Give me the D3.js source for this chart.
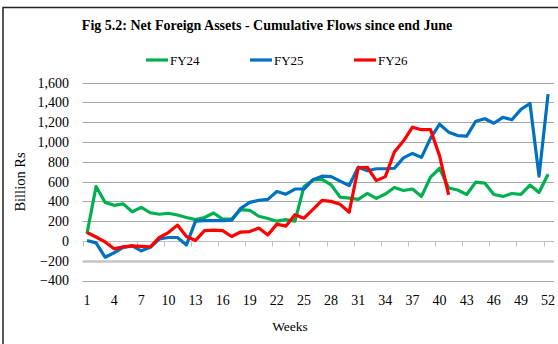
<!DOCTYPE html>
<html>
<head>
<meta charset="utf-8">
<script src="https://cdn.jsdelivr.net/npm/d3@7"></script>
<style>
  html, body { margin: 0; padding: 0; background: #fff; }
  svg { display: block; }
  text { font-family: "Liberation Serif", "DejaVu Serif", serif; fill: #000; }
</style>
</head>
<body>
<svg id="chart" width="558" height="344"></svg>
<script>
// Weekly cumulative net foreign asset flows (Billion Rs), weeks since end June
const weeks = d3.range(1, 53);
const tickWeeks = [1, 4, 7, 10, 13, 16, 19, 22, 25, 28, 31, 34, 37, 40, 43, 46, 49, 52];
const yTicks = [-400, -200, 0, 200, 400, 600, 800, 1000, 1200, 1400, 1600];
const seriesNames = ["FY24", "FY25", "FY26"];
const seriesColors = ["#00B050", "#0070C0", "#FF0000"];

const fy24 = [75, 550, 390, 360, 375, 295, 340, 285, 270, 280, 262, 237, 215, 237, 283, 220, 220, 317, 310, 250,
              227, 200, 215, 200, 550, 617, 623, 567, 443, 433, 420, 480, 430, 475, 540, 510, 525, 450, 645, 735,
              535, 515, 470, 595, 585, 470, 450, 480, 470, 565, 490, 675];
const fy25 = [5, -20, -165, -120, -65, -50, -100, -65, 20, 35, 35, -40, 200, 205, 205, 205, 210, 330, 390, 410,
              420, 500, 473, 525, 525, 620, 655, 650, 605, 560, 745, 710, 730, 730, 735, 840, 885, 845, 1040, 1180,
              1100, 1065, 1060, 1210, 1235, 1190, 1250, 1225, 1330, 1390, 655, 1485];
const fy26 = [85, 40, -10, -80, -60, -50, -55, -60, 35, 85, 160, 45, 5, 105, 110, 105, 45, 90, 95, 130,
              60, 170, 150, 265, 230, 320, 410, 400, 370, 290, 740, 745, 610, 650, 900, 1010, 1150, 1125, 1125, 860,
              465];
const seriesValues = [fy24, fy25, fy26];

const svg = d3.select("#chart");

// outer frame
svg.append("rect")
  .attr("x", 3).attr("y", 7.5)
  .attr("width", 570).attr("height", 360)
  .attr("fill", "none").attr("stroke", "#222").attr("stroke-width", 1.5);

const plot = { left: 82.5, right: 552.6, top: 82.7, bottom: 280.5 };

const x = d3.scaleBand().domain(weeks).range([plot.left, plot.right]).padding(0);
const y = d3.scaleLinear().domain([-400, 1600]).range([plot.bottom, plot.top]);
const cx = w => x(w) + x.bandwidth() / 2;

// title
svg.append("text")
  .attr("x", 267).attr("y", 30)
  .attr("text-anchor", "middle")
  .style("font-weight", "bold").style("font-size", "14px")
  .text("Fig 5.2: Net Foreign Assets - Cumulative Flows since end June");

// horizontal gridlines
svg.append("g").selectAll("line")
  .data(yTicks.filter(v => v !== 0))
  .join("line")
  .attr("x1", plot.left).attr("x2", plot.right + 1.5)
  .attr("y1", d => Math.round(y(d)) + 0.5).attr("y2", d => Math.round(y(d)) + 0.5)
  .attr("stroke", d => d === -200 ? "#c4c4c4" : "#a6a6a6")
  .attr("stroke-width", d => d === -200 ? 2.5 : 1);

// y-axis labels
const yAxis = d3.axisLeft(y).tickValues(yTicks).tickSize(0).tickPadding(0)
  .tickFormat(d3.format(","));
const gy = svg.append("g").attr("transform", `translate(69,0)`).call(yAxis);
gy.select(".domain").remove();
gy.selectAll("text").style("font-size", "14px").style("font-family", "Liberation Serif, serif").attr("fill", "#000");

// category axis at zero, ticks on week boundaries every third week
const zeroY = Math.round(y(0)) + 0.5;
svg.append("line")
  .attr("x1", plot.left).attr("x2", plot.right + 1.5)
  .attr("y1", zeroY).attr("y2", zeroY)
  .attr("stroke", "#bfbfbf").attr("stroke-width", 1);
svg.append("g").selectAll("line")
  .data(tickWeeks)
  .join("line")
  .attr("x1", d => Math.round(x(d)) + 0.5).attr("x2", d => Math.round(x(d)) + 0.5)
  .attr("y1", zeroY).attr("y2", zeroY + 5)
  .attr("stroke", "#bfbfbf");

// week labels below the plot
svg.append("g").selectAll("text")
  .data(tickWeeks)
  .join("text")
  .attr("x", d => cx(d)).attr("y", 305)
  .attr("text-anchor", "middle")
  .style("font-size", "14px")
  .text(d => d);

// axis titles
svg.append("text")
  .attr("x", 290).attr("y", 331)
  .attr("text-anchor", "middle").style("font-size", "13.5px")
  .text("Weeks");
svg.append("text")
  .attr("transform", "translate(25,182) rotate(-90)")
  .attr("text-anchor", "middle").style("font-size", "14.5px")
  .text("Billion Rs");

// series lines
const line = d3.line().x((d, i) => cx(weeks[i])).y(d => y(d)).curve(d3.curveLinear);
svg.append("g").selectAll("path")
  .data(seriesValues)
  .join("path")
  .attr("d", d => line(d))
  .attr("fill", "none")
  .attr("stroke", (d, i) => seriesColors[i])
  .attr("stroke-width", 3.2)
  .attr("stroke-linejoin", "round");

// legend
const legendX = [146, 250, 354];
const lg = svg.append("g").selectAll("g")
  .data(seriesNames)
  .join("g")
  .attr("transform", (d, i) => `translate(${legendX[i]},60)`);
lg.append("line")
  .attr("x1", 0).attr("x2", 22).attr("y1", 0).attr("y2", 0)
  .attr("stroke", (d, i) => seriesColors[i]).attr("stroke-width", 3.2);
lg.append("text")
  .attr("x", 24).attr("y", 5)
  .style("font-size", "13px")
  .text(d => d);
</script>
</body>
</html>
